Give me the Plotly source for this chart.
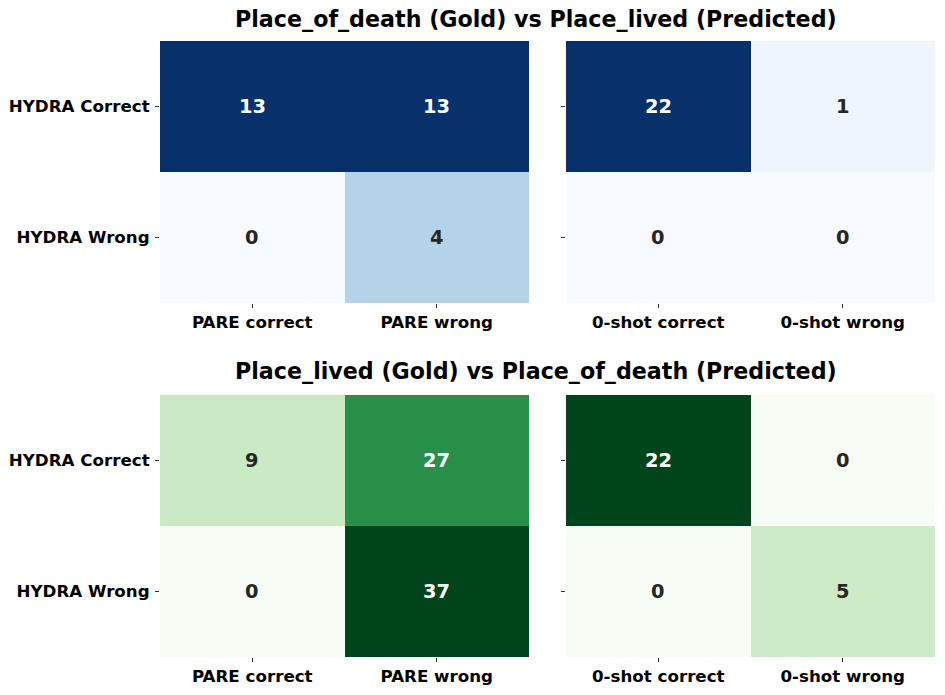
import plotly.graph_objects as go

# ---- data ----
row_labels = ["HYDRA Correct", "HYDRA Wrong"]
pare_labels = ["PARE correct", "PARE wrong"]
zero_labels = ["0-shot correct", "0-shot wrong"]

title_top = "Place_of_death (Gold) vs Place_lived (Predicted)"
title_bottom = "Place_lived (Gold) vs Place_of_death (Predicted)"

top_pare = [[13, 13], [0, 4]]
top_zero = [[22, 1], [0, 0]]
bottom_pare = [[9, 27], [0, 37]]
bottom_zero = [[22, 0], [0, 5]]

blues = ["#f7fbff", "#deebf7", "#c6dbef", "#9ecae1", "#6baed6",
         "#4292c6", "#2171b5", "#08519c", "#08306b"]
greens = ["#f7fcf5", "#e5f5e0", "#c7e9c0", "#a1d99b", "#74c476",
          "#41ab5d", "#238b45", "#006d2c", "#00441b"]


def hex2rgb(h):
    h = h.lstrip("#")
    return [int(h[i:i + 2], 16) / 255 for i in (0, 2, 4)]


def interp(colors, t):
    t = min(max(t, 0), 1)
    n = len(colors) - 1
    i = min(int(t * n), n - 1)
    f = t * n - i
    a, b = hex2rgb(colors[i]), hex2rgb(colors[i + 1])
    return [a[k] + (b[k] - a[k]) * f for k in range(3)]


def lum(rgb):
    out = []
    for c in rgb:
        out.append(c / 12.92 if c <= 0.03928 else ((c + 0.055) / 1.055) ** 2.4)
    return 0.2126 * out[0] + 0.7152 * out[1] + 0.0722 * out[2]


def scale(colors):
    n = len(colors) - 1
    return [[i / n, c] for i, c in enumerate(colors)]


# page body has an 8px margin; size the figure so it fits in the window
OFF = 8
W, H = 945 - 2 * OFF, 695 - 2 * OFF


def px(x):
    return (x - OFF) / W


def py(y):
    return 1 - (y - OFF) / H


xd_left = [px(160), px(529)]
xd_right = [px(566), px(935)]
yd_top = [py(303), py(41)]
yd_bot = [py(657), py(395)]

panels = [
    (top_pare, pare_labels, blues, xd_left, yd_top, True),
    (top_zero, zero_labels, blues, xd_right, yd_top, False),
    (bottom_pare, pare_labels, greens, xd_left, yd_bot, True),
    (bottom_zero, zero_labels, greens, xd_right, yd_bot, False),
]

FONT = "DejaVu Sans"
fig = go.Figure()
annotations = []
layout = {}
for idx, (z, xl, cols, xd, yd, showy) in enumerate(panels, start=1):
    xa = "x" if idx == 1 else f"x{idx}"
    ya = "y" if idx == 1 else f"y{idx}"
    zmin = min(min(r) for r in z)
    zmax = max(max(r) for r in z)
    fig.add_trace(go.Heatmap(
        z=z, x=xl, y=row_labels, xaxis=xa, yaxis=ya,
        colorscale=scale(cols), zmin=zmin, zmax=zmax,
        showscale=False, hoverinfo="z",
    ))
    for r, row in enumerate(z):
        for c, v in enumerate(row):
            t = (v - zmin) / (zmax - zmin) if zmax > zmin else 0
            color = "#262626" if lum(interp(cols, t)) > 0.408 else "white"
            annotations.append(dict(
                x=xl[c], y=row_labels[r], xref=xa, yref=ya,
                text=str(v), showarrow=False,
                font=dict(family=FONT, size=19.4, color=color, weight="bold"),
            ))
    layout[f"xaxis{'' if idx == 1 else idx}"] = dict(
        domain=xd, anchor=ya, ticks="outside", ticklen=4, tickcolor="#333",
        showgrid=False, zeroline=False, showline=False, automargin=False,
        ticklabelstandoff=0,
        tickfont=dict(family=FONT, size=16.7, color="black", weight="bold"),
    )
    layout[f"yaxis{'' if idx == 1 else idx}"] = dict(
        domain=yd, anchor=xa, ticks="outside", ticklen=4, tickcolor="#333",
        showgrid=False, zeroline=False, showline=False, autorange="reversed",
        showticklabels=showy, automargin=False, ticklabelstandoff=2,
        tickfont=dict(family=FONT, size=16.7, color="black", weight="bold"),
    )

for text, y in [(title_top, py(19)), (title_bottom, py(371))]:
    annotations.append(dict(
        x=px(536), y=y, xref="paper", yref="paper", text=text,
        showarrow=False, xanchor="center", yanchor="middle",
        font=dict(family=FONT, size=22.2, color="black", weight="bold"),
    ))

fig.update_layout(
    width=W, height=H, margin=dict(l=0, r=0, t=0, b=0),
    paper_bgcolor="white", plot_bgcolor="white",
    annotations=annotations, **layout,
)
fig.write_html("out.html")
